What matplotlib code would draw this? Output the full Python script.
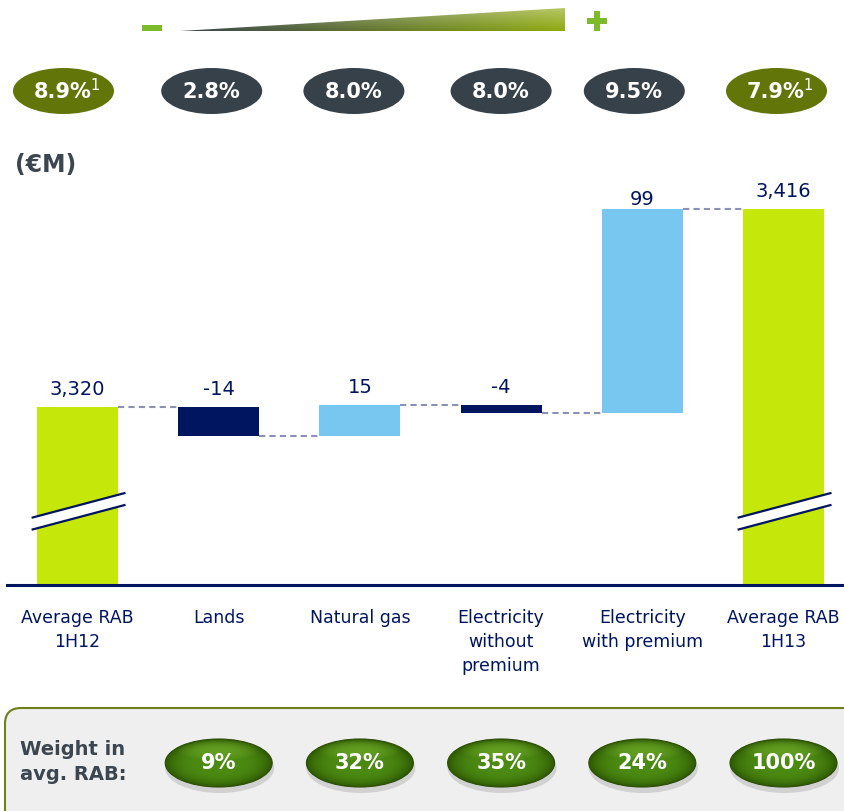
import numpy as np
import matplotlib
matplotlib.use("Agg")
import matplotlib.pyplot as plt
from matplotlib.patches import Ellipse, Polygon, Rectangle, FancyBboxPatch
from matplotlib.colors import to_rgb

# data
categories = ["Average RAB\n1H12", "Lands", "Natural gas",
              "Electricity\nwithout\npremium", "Electricity\nwith premium",
              "Average RAB\n1H13"]
values = [3320, -14, 15, -4, 99, 3416]
is_total = [True, False, False, False, False, True]
rates = ["8.9%", "2.8%", "8.0%", "8.0%", "9.5%", "7.9%"]
rate_notes = ["1", "", "", "", "", "1"]
weights = ["9%", "32%", "35%", "24%", "100%"]   # Lands .. Average RAB 1H13

# styles
LIME = "#c6e70a"
NAVY = "#00155f"
LBLUE = "#78c7f1"
OLIVE = "#617508"
SLATE = "#36414a"
DASH = "#8c90b4"
GREY_TXT = "#3b4650"
W_PX, H_PX = 844, 811

fig = plt.figure(figsize=(W_PX / 100, H_PX / 100), dpi=100)

# full-figure overlay in pixel coordinates for the decorations
ovl = fig.add_axes([0, 0, 1, 1], zorder=0)
ovl.set_xlim(0, W_PX)
ovl.set_ylim(H_PX, 0)
ovl.axis("off")

# main waterfall axes
ax_top, ax_bot = 130, 585
ax = fig.add_axes([7 / W_PX, 1 - ax_bot / H_PX, (W_PX - 7) / W_PX, (ax_bot - ax_top) / H_PX],
                  zorder=1)
ax.patch.set_visible(False)
step = 141.2
ax.set_xlim(-(77.5 - 7) / step, (W_PX - 77.5) / step)
ymin = 3233.7
ax.set_ylim(ymin, ymin + (ax_bot - ax_top) / 2.0625)

# waterfall geometry
bottoms, heights, colors, levels = [], [], [], []
cum = 0
for v, tot in zip(values, is_total):
    if tot:
        bottoms.append(0)
        heights.append(v)
        colors.append(LIME)
        cum = v
    else:
        new = cum + v
        bottoms.append(min(cum, new))
        heights.append(abs(v))
        colors.append(NAVY if v < 0 else LBLUE)
        cum = new
    levels.append(cum)

x = np.arange(len(values))
bw = 0.574
ax.bar(x, heights, bottom=bottoms, width=bw, color=colors, zorder=2)

# connectors
for i in range(len(values) - 1):
    ax.plot([i + bw / 2, i + 1 - bw / 2], [levels[i], levels[i]], color=DASH,
            lw=1.5, ls=(0, (3, 2)), zorder=1)

# value labels
lab_off = [5.5, 5.5, 5.5, 5.5, 0, 5.5]
for i, (v, tot) in enumerate(zip(values, is_total)):
    txt = f"{v:,}" if tot else str(v)
    ax.annotate(txt, (i, bottoms[i] + heights[i]), xytext=(0, lab_off[i]),
                textcoords="offset points", ha="center", va="bottom",
                fontsize=14, color=NAVY)

# axis break marks on the total bars
brk_y = 3269.3
slope = 12.1 / 0.666
gap = 5.8
for i, tot in enumerate(is_total):
    if not tot:
        continue
    x0, x1 = i - 0.325, i + 0.34
    def line_y(xx, side):
        return brk_y + side * gap / 2 + slope * (xx - i)
    band = Polygon([(x0, line_y(x0, -1)), (x1, line_y(x1, -1)),
                    (x1, line_y(x1, 1)), (x0, line_y(x0, 1))],
                   closed=True, fc="white", ec="none", zorder=3, clip_on=False)
    ax.add_patch(band)
    for side in (-1, 1):
        ax.plot([x0, x1], [line_y(x0, side), line_y(x1, side)], color=NAVY,
                lw=1.6, zorder=4, clip_on=False, solid_capstyle="butt")

ax.set_xticks(x)
ax.set_xticklabels(categories, fontsize=12.5, color=NAVY, linespacing=1.45)
ax.tick_params(axis="x", length=0, pad=17)
ax.set_yticks([])
for s in ["left", "right", "top"]:
    ax.spines[s].set_visible(False)
ax.spines["bottom"].set_color(NAVY)
ax.spines["bottom"].set_linewidth(2.2)


def bar_px(i):
    return ax.transData.transform((i, 0))[0]


# top: rate ellipses
rate_shift = [-14, -7, -6, 0, -8, -7]
for i, (r, n) in enumerate(zip(rates, rate_notes)):
    cx = bar_px(i) + rate_shift[i]
    fc = OLIVE if is_total[i] else SLATE
    ovl.add_patch(Ellipse((cx, 91), 101, 46, fc=fc, ec="none"))
    if n:
        ovl.text(cx - 1, 92, r, ha="center", va="center",
                 color="white", fontsize=15, fontweight="bold")
        ovl.text(cx + 27, 85, n, ha="left", va="center",
                 color="white", fontsize=10.5)
    else:
        ovl.text(cx, 92, r, ha="center", va="center",
                 color="white", fontsize=15, fontweight="bold")

# top: gradient wedge with - and +
wedge = Polygon([(180, 31), (565, 8), (565, 31)], closed=True, fc="none", ec="none")
ovl.add_patch(wedge)
t = np.linspace(0, 1, 200)[None, :, None]
vv = np.linspace(0, 1, 30)[:, None, None]
c0, c1 = np.array(to_rgb("#37434d")), np.array(to_rgb("#8eaa10"))
img = c0 * (1 - t) + c1 * t
img = img * (1 - 0.35 * (1 - vv)) + 0.35 * (1 - vv)
im = ovl.imshow(img, extent=[180, 565, 31, 8], aspect="auto", interpolation="bilinear")
im.set_clip_path(wedge)
ovl.add_patch(Rectangle((142, 25), 20, 6, fc="#7dbb2d", ec="none"))
ovl.add_patch(Rectangle((587, 18), 20, 6, fc="#7dbb2d", ec="none"))
ovl.add_patch(Rectangle((594, 11), 6, 20, fc="#7dbb2d", ec="none"))

# unit label
ovl.text(15, 165, "(€M)", ha="left", va="center", fontsize=17,
         fontweight="bold", color=GREY_TXT)

# bottom box with weights
ovl.add_patch(FancyBboxPatch((5, 708), 900, 150,
                             boxstyle="round,pad=0,rounding_size=16",
                             fc="#efefef", ec="#6f7f1c", lw=1.5))
ovl.text(20, 762, "Weight in\navg. RAB:", ha="left", va="center", fontsize=14,
         fontweight="bold", color=GREY_TXT, linespacing=1.4)

gw, gh, gy = 107, 48, 763
u = np.linspace(-1, 1, 120)[None, :]
w = np.linspace(-1, 1, 60)[:, None]
rr = np.sqrt(u ** 2 + w ** 2)
mid = np.array(to_rgb("#4c8b12"))
dark = np.array(to_rgb("#2e5903"))
light = np.array(to_rgb("#7cb532"))
k = np.clip(rr, 0, 1)[..., None] ** 4
gimg = mid * (1 - k) + dark * k
hl = np.clip(1 - ((w + 0.55) / 0.45) ** 2 - (u / 0.8) ** 2, 0, 1)[..., None] * 0.5
gimg = gimg * (1 - hl) + light * hl
for j, wt in enumerate(weights):
    cx = bar_px(j + 1)
    ovl.add_patch(Ellipse((cx + 1, gy + 5), gw + 2, gh + 2, fc="#999999",
                          ec="none", alpha=0.35))
    ell = Ellipse((cx, gy), gw, gh, fc="none", ec="#2b4d05", lw=0.8, zorder=3)
    ovl.add_patch(ell)
    gi = ovl.imshow(gimg, extent=[cx - gw / 2, cx + gw / 2, gy + gh / 2, gy - gh / 2],
                    aspect="auto", interpolation="bilinear", zorder=2)
    gi.set_clip_path(ell)
    ovl.text(cx, gy, wt, ha="center", va="center", color="white", fontsize=15,
             fontweight="bold", zorder=4)

ovl.set_xlim(0, W_PX)
ovl.set_ylim(H_PX, 0)

fig.savefig("out.png", dpi=100)
